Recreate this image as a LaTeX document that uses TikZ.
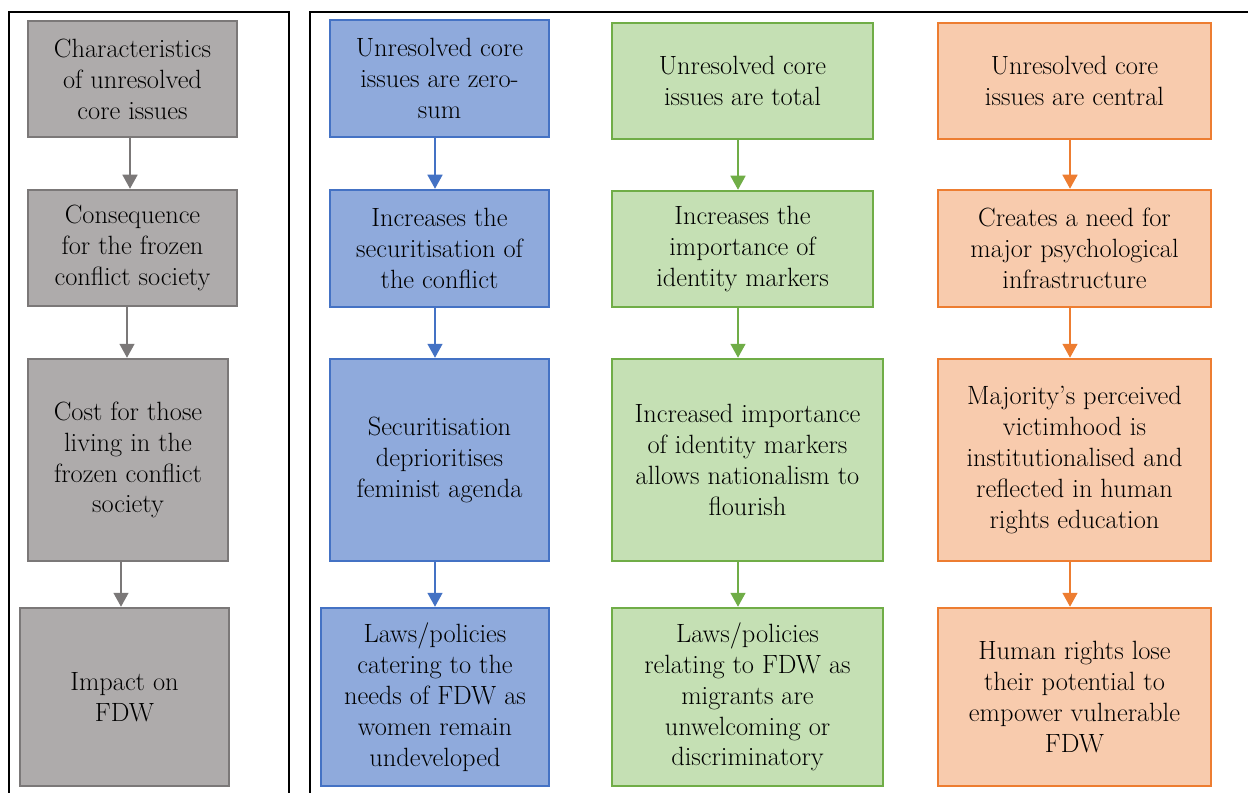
\documentclass[tikz,border=0pt]{standalone}
\usepackage{fontspec}
\usetikzlibrary{arrows.meta}
\definecolor{grayfill}{HTML}{AEABAB}
\definecolor{grayline}{HTML}{7B7878}
\definecolor{bluefill}{HTML}{8FAADC}
\definecolor{blueline}{HTML}{4472C4}
\definecolor{greenfill}{HTML}{C5E0B4}
\definecolor{greenline}{HTML}{70AD47}
\definecolor{orangefill}{HTML}{F8CBAD}
\definecolor{orangeline}{HTML}{ED7D31}
\tikzset{
  box/.style={rectangle, draw, line width=2.5bp, inner sep=0pt, align=center,
    font=\fontsize{26.5}{31}\selectfont, text=black},
  graybox/.style={box, fill=grayfill, draw=grayline},
  bluebox/.style={box, fill=bluefill, draw=blueline},
  greenbox/.style={box, fill=greenfill, draw=greenline},
  orangebox/.style={box, fill=orangefill, draw=orangeline},
  arr/.style={line width=1.6bp, -{Triangle[width=15bp,length=14bp]}},
  frame/.style={line width=2.8bp, black},
}
\begin{document}
\begin{tikzpicture}[x=1bp,y=-1bp]
\useasboundingbox (0,0) rectangle (1248,793);
% frames
\draw[frame] (9,793) -- (9,12) -- (289,12) -- (289,793);
\draw[frame] (310,793) -- (310,12) -- (1248,12);
% left column
\node[graybox, minimum width=209bp, minimum height=116bp] (l1) at (132.5,79) {Characteristics\\of unresolved\\core issues};
\node[graybox, minimum width=209bp, minimum height=116bp] (l2) at (132.5,248) {Consequence\\for the frozen\\conflict society};
\node[graybox, minimum width=200bp, minimum height=202bp] (l3) at (128,460) {Cost for those\\living in the\\frozen conflict\\society};
\node[graybox, minimum width=209bp, minimum height=178bp] (l4) at (124.5,697) {Impact on\\FDW};
% blue column
\node[bluebox, minimum width=219bp, minimum height=117bp] (b1) at (439.5,78.5) {Unresolved core\\issues are zero-\\sum};
\node[bluebox, minimum width=219bp, minimum height=117bp] (b2) at (439.5,248.5) {Increases the\\securitisation of\\the conflict};
\node[bluebox, minimum width=219bp, minimum height=202bp] (b3) at (439.5,460) {Securitisation\\deprioritises\\feminist agenda};
\node[bluebox, minimum width=228bp, minimum height=178bp] (b4) at (435,697) {Laws/policies\\catering to the\\needs of FDW as\\women remain\\undeveloped};
% green column
\node[greenbox, minimum width=261bp, minimum height=116bp] (g1) at (742.5,81) {Unresolved core\\issues are total};
\node[greenbox, minimum width=261bp, minimum height=116bp] (g2) at (742.5,249) {Increases the\\importance of\\identity markers};
\node[greenbox, minimum width=271bp, minimum height=202bp] (g3) at (747.5,460) {Increased importance\\of identity markers\\allows nationalism to\\flourish};
\node[greenbox, minimum width=271bp, minimum height=178bp] (g4) at (747.5,697) {Laws/policies\\relating to FDW as\\migrants are\\unwelcoming or\\discriminatory};
% orange column
\node[orangebox, minimum width=273bp, minimum height=116bp] (o1) at (1074.5,81) {Unresolved core\\issues are central};
\node[orangebox, minimum width=273bp, minimum height=117bp] (o2) at (1074.5,248.5) {Creates a need for\\major psychological\\infrastructure};
\node[orangebox, minimum width=273bp, minimum height=202bp] (o3) at (1074.5,460) {Majority’s perceived\\victimhood is\\institutionalised and\\reflected in human\\rights education};
\node[orangebox, minimum width=273bp, minimum height=178bp] (o4) at (1074.5,697) {Human rights lose\\their potential to\\empower vulnerable\\FDW};
% arrow columns
\coordinate (lxa) at (130,0);
\coordinate (lxb) at (127,0);
\coordinate (lxc) at (121,0);
\coordinate (bx) at (435,0);
\coordinate (gx) at (738,0);
\coordinate (ox) at (1070,0);
% arrows
\draw[arr, grayline] (l1.south -| lxa) -- (l2.north -| lxa);
\draw[arr, grayline] (l2.south -| lxb) -- (l3.north -| lxb);
\draw[arr, grayline] (l3.south -| lxc) -- (l4.north -| lxc);
\draw[arr, blueline] (b1.south -| bx) -- (b2.north -| bx);
\draw[arr, blueline] (b2.south -| bx) -- (b3.north -| bx);
\draw[arr, blueline] (b3.south -| bx) -- (b4.north -| bx);
\draw[arr, greenline] (g1.south -| gx) -- (g2.north -| gx);
\draw[arr, greenline] (g2.south -| gx) -- (g3.north -| gx);
\draw[arr, greenline] (g3.south -| gx) -- (g4.north -| gx);
\draw[arr, orangeline] (o1.south -| ox) -- (o2.north -| ox);
\draw[arr, orangeline] (o2.south -| ox) -- (o3.north -| ox);
\draw[arr, orangeline] (o3.south -| ox) -- (o4.north -| ox);
\end{tikzpicture}
\end{document}
